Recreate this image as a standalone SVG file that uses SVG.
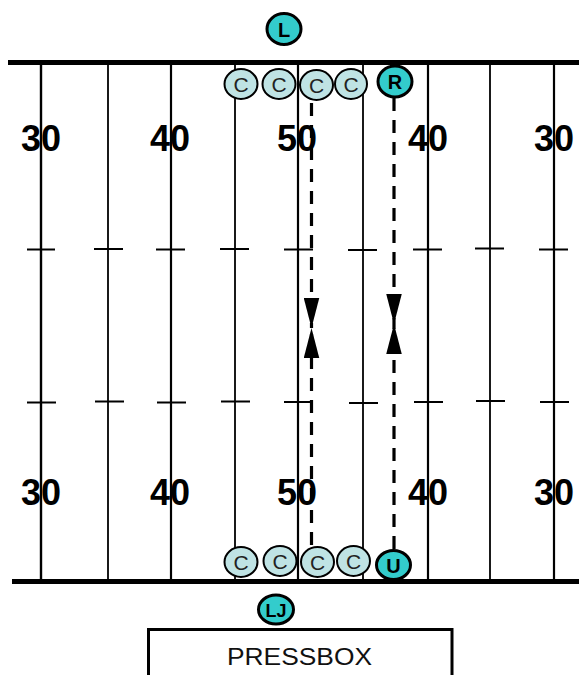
<svg xmlns="http://www.w3.org/2000/svg" width="579" height="675" viewBox="0 0 579 675">
<style>
.yl{stroke:#000;stroke-width:1.8;fill:none}
.hm{stroke:#000;stroke-width:2;fill:none}
.side{stroke:#000;stroke-width:5;fill:none}
.num{font-family:"Liberation Sans",Arial,sans-serif;font-weight:bold;font-size:36px;text-anchor:middle;fill:#000}
.c{fill:#BFE3E4;stroke:#000;stroke-width:2}
.t{fill:#33CCCC;stroke:#000;stroke-width:3}
.cl{font-family:"Liberation Sans",Arial,sans-serif;font-size:21px;text-anchor:middle;fill:#222}
.tl{font-family:"Liberation Sans",Arial,sans-serif;font-weight:bold;font-size:20px;text-anchor:middle;fill:#000}
.dash{stroke:#000;stroke-width:3.2;stroke-dasharray:13 9;fill:none;marker-end:url(#ah)}
</style>
<defs>
<marker id="ah" markerUnits="userSpaceOnUse" markerWidth="30" markerHeight="16" viewBox="0 0 29 15" refX="29" refY="7.5" orient="auto">
<path d="M0,0 L29,7.5 L0,15 z" fill="#000"/>
</marker>
</defs>
<rect width="579" height="675" fill="#fff"/>
<g id="field">
<g id="numbers">
<text class="num" x="41" y="151">30</text>
<text class="num" x="170" y="151">40</text>
<text class="num" x="297" y="151">50</text>
<text class="num" x="428" y="151">40</text>
<text class="num" x="554" y="151">30</text>
<text class="num" x="41" y="505">30</text>
<text class="num" x="170" y="505">40</text>
<text class="num" x="297" y="505">50</text>
<text class="num" x="428" y="505">40</text>
<text class="num" x="554" y="505">30</text>
</g>
<g id="yardlines">
<line class="yl" x1="41" y1="62" x2="41" y2="581" style="stroke-width:2.4"/>
<line class="yl" x1="108" y1="62" x2="108" y2="581"/>
<line class="yl" x1="171" y1="62" x2="171" y2="581" style="stroke-width:2.2"/>
<line class="yl" x1="235" y1="62" x2="235" y2="581"/>
<line class="yl" x1="298" y1="62" x2="298" y2="581" style="stroke-width:2.2"/>
<line class="yl" x1="363" y1="62" x2="363" y2="581"/>
<line class="yl" x1="428" y1="62" x2="428" y2="581" style="stroke-width:2.2"/>
<line class="yl" x1="490" y1="62" x2="490" y2="581"/>
<line class="yl" x1="554" y1="62" x2="554" y2="581" style="stroke-width:2.2"/>
</g>
<g id="hashmarks">
<line class="hm" x1="27" y1="249.5" x2="55" y2="249.5"/>
<line class="hm" x1="94" y1="249" x2="123" y2="249"/>
<line class="hm" x1="156" y1="249.5" x2="185" y2="249.5"/>
<line class="hm" x1="220" y1="249" x2="249" y2="249"/>
<line class="hm" x1="284" y1="249.5" x2="313" y2="249.5"/>
<line class="hm" x1="348" y1="250" x2="377" y2="250"/>
<line class="hm" x1="413" y1="249.5" x2="442" y2="249.5"/>
<line class="hm" x1="475" y1="248.5" x2="504" y2="248.5"/>
<line class="hm" x1="539" y1="249.5" x2="568" y2="249.5"/>
<line class="hm" x1="27" y1="402.5" x2="56" y2="402.5"/>
<line class="hm" x1="95" y1="401.5" x2="124" y2="401.5"/>
<line class="hm" x1="157" y1="402.5" x2="186" y2="402.5"/>
<line class="hm" x1="221" y1="401.5" x2="250" y2="401.5"/>
<line class="hm" x1="284" y1="402" x2="313" y2="402"/>
<line class="hm" x1="349" y1="403" x2="378" y2="403"/>
<line class="hm" x1="414" y1="402" x2="443" y2="402"/>
<line class="hm" x1="476" y1="401" x2="505" y2="401"/>
<line class="hm" x1="540" y1="402" x2="569" y2="402"/>
</g>
<g id="sidelines">
<line class="side" x1="8" y1="62.5" x2="579" y2="62.5"/>
<line class="side" x1="12" y1="581.5" x2="579" y2="581.5"/>
</g>
</g>
<g id="connectors">
<line class="dash" x1="311.5" y1="103" x2="311.5" y2="328"/>
<line class="dash" x1="311.5" y1="545" x2="311.5" y2="328"/>
<line class="dash" x1="394" y1="98" x2="394" y2="324"/>
<line class="dash" x1="394" y1="549" x2="394" y2="324"/>
</g>
<g id="L"><ellipse class="t" cx="284" cy="29" rx="17" ry="15.5"/><text class="tl" x="284" y="36.5">L</text></g>
<g id="C_top1"><ellipse class="c" cx="241" cy="84" rx="16.5" ry="15"/><text class="cl" x="241" y="91.5">C</text></g>
<g id="C_top2"><ellipse class="c" cx="279" cy="84" rx="16.5" ry="15"/><text class="cl" x="279" y="91.5">C</text></g>
<g id="C_top3"><ellipse class="c" cx="316.5" cy="85" rx="16.5" ry="15"/><text class="cl" x="316.5" y="92.5">C</text></g>
<g id="C_top4"><ellipse class="c" cx="351" cy="84" rx="16" ry="15"/><text class="cl" x="351" y="91.5">C</text></g>
<g id="R"><ellipse class="t" cx="395" cy="81.5" rx="17" ry="15.5"/><text class="tl" x="395" y="89">R</text></g>
<g id="C_bot1"><ellipse class="c" cx="241" cy="562" rx="16.5" ry="15"/><text class="cl" x="241" y="569.5">C</text></g>
<g id="C_bot2"><ellipse class="c" cx="280" cy="561" rx="16.5" ry="15"/><text class="cl" x="280" y="568.5">C</text></g>
<g id="C_bot3"><ellipse class="c" cx="317.5" cy="562" rx="16.5" ry="15"/><text class="cl" x="317.5" y="569.5">C</text></g>
<g id="C_bot4"><ellipse class="c" cx="353.5" cy="561" rx="16.5" ry="15"/><text class="cl" x="353.5" y="568.5">C</text></g>
<g id="U"><ellipse class="t" cx="393.5" cy="565" rx="17" ry="14.5"/><text class="tl" x="393.5" y="572.5">U</text></g>
<g id="LJ"><ellipse class="t" cx="276" cy="609.5" rx="17.5" ry="14.5"/><text class="tl" x="276" y="616.5" style="font-size:18px">LJ</text></g>
<g id="pressbox">
<rect x="148.5" y="629.5" width="303.5" height="60" fill="#fff" stroke="#000" stroke-width="3"/>
<text x="299.5" y="665" font-family="'Liberation Sans',Arial,sans-serif" font-size="24" text-anchor="middle" textLength="145" lengthAdjust="spacingAndGlyphs" fill="#111">PRESSBOX</text>
</g>
</svg>
